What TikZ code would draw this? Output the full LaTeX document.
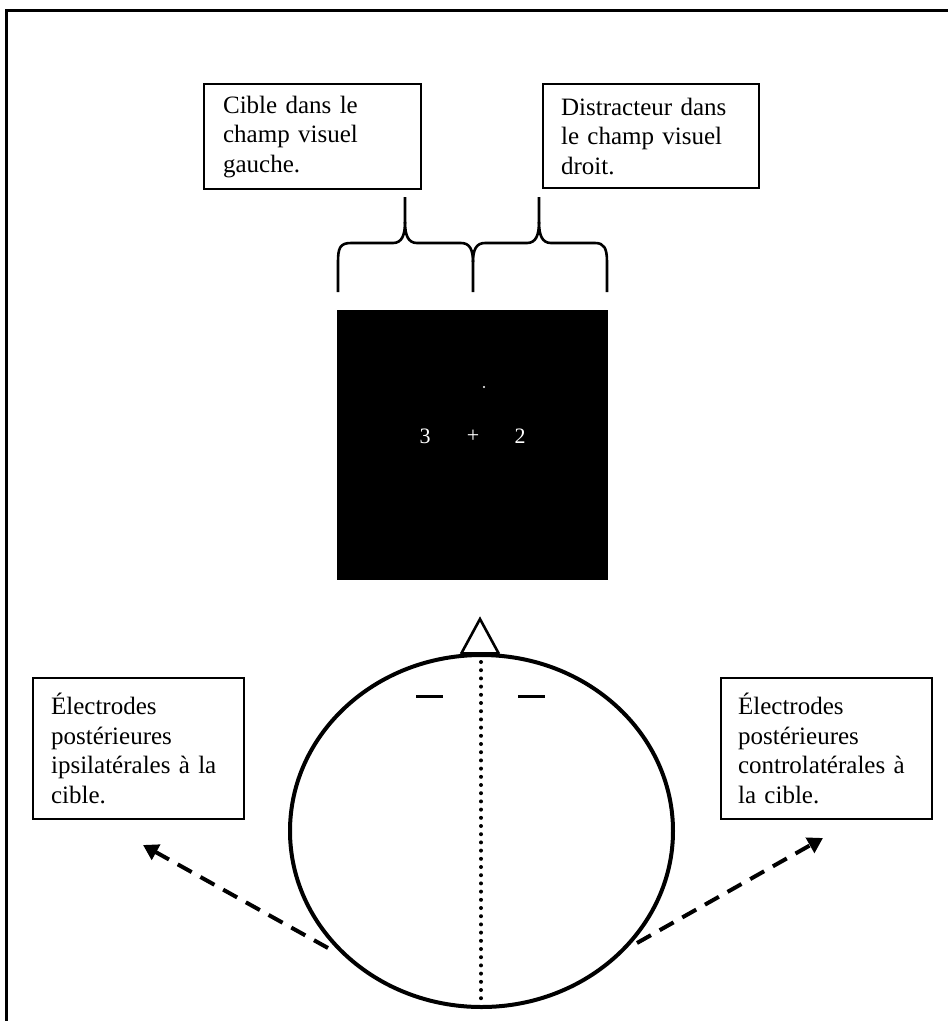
\documentclass[tikz,border=0pt]{standalone}
\usepackage{fontspec}
\setmainfont{Liberation Serif}
\usetikzlibrary{arrows.meta,shapes.geometric}
\begin{document}
\begin{tikzpicture}[x=1pt,y=-1pt,
  txtbox/.style={draw, line width=2.2pt, align=left, inner ysep=0pt,
     font=\fontsize{25}{29.5}\selectfont, anchor=north west},
  brace/.style={line width=2.6pt, line join=round},
  dasharrow/.style={line width=4pt, dash pattern=on 16pt off 10pt,
     -{Triangle[length=15pt,width=17pt]}},
  whitetxt/.style={text=white, font=\fontsize{22}{24}\selectfont, inner sep=0pt}]
\useasboundingbox (0,0) rectangle (948,1021);
% frame
\draw[line width=3pt] (6,1021) -- (6,10) -- (948,10);
% top boxes
\node[txtbox, inner xsep=19pt, text width=179pt, minimum height=105pt]
  (box1) at (203,83) {Cible dans le\\champ visuel\\gauche.};
\node[txtbox, inner xsep=18pt, text width=180pt, minimum height=104pt]
  (box2) at (542,83) {Distracteur dans\\le champ visuel\\droit.};
% braces
\draw[brace] (338,292) -- (338,262) .. controls (338,248) and (340,243) .. (351,243)
  -- (393,243) .. controls (402,243) and (405,235) .. (405,222) -- (405,197);
\draw[brace] (405,222) .. controls (405,235) and (408,243) .. (417,243)
  -- (461,243) .. controls (470,243) and (473,250) .. (473,262) -- (473,292);
\draw[brace] (473,262) .. controls (473,250) and (476,243) .. (485,243)
  -- (527,243) .. controls (536,243) and (539,235) .. (539,222) -- (539,197);
\draw[brace] (539,222) .. controls (539,235) and (542,243) .. (551,243)
  -- (595,243) .. controls (604,243) and (607,248) .. (607,262) -- (607,292);
% screen
\node[fill=black, minimum width=271pt, minimum height=270pt, inner sep=0pt] (screen) at (472.5,445) {};
\node[whitetxt] (three) at (425,436) {3};
\node[whitetxt] (plus) at (473,436) {+};
\node[whitetxt] (two) at (520,436) {2};
\fill[white] (484,387) circle (1.2pt);
% head
\node[draw, line width=4pt, ellipse, minimum width=383pt, minimum height=352pt, inner sep=0pt] (head) at (481.5,831) {};
\coordinate (nosetip) at (480,619);
\coordinate (noseL) at (461,654);
\coordinate (noseR) at (499,654);
\draw[line width=2.6pt, line join=miter] (noseL) -- (nosetip) -- (noseR);
\draw[line width=4pt] (noseL) -- (noseR);
\coordinate (midtop) at (481,662);
\coordinate (midbot) at (481,1001);
\draw[line width=4pt, line cap=round, dash pattern=on 0pt off 8.2pt] (midtop) -- (midbot);
\draw[line width=3pt] (416,696) -- (443,696);
\draw[line width=3pt] (518,696) -- (545,696);
% bottom boxes
\node[txtbox, inner xsep=18pt, text width=175pt, minimum height=141pt]
  (box3) at (32,677) {Électrodes\\postérieures\\ipsilatérales à la\\cible.};
\node[txtbox, inner xsep=17pt, text width=177pt, minimum height=141pt]
  (box4) at (720,677) {Électrodes\\postérieures\\controlatérales à\\la cible.};
% arrows
\coordinate (la0) at (328,948);
\coordinate (la1) at (143,845);
\coordinate (ra0) at (637,943);
\coordinate (ra1) at (823,838);
\draw[dasharrow] (la0) -- (la1);
\draw[dasharrow] (ra0) -- (ra1);
\end{tikzpicture}
\end{document}
